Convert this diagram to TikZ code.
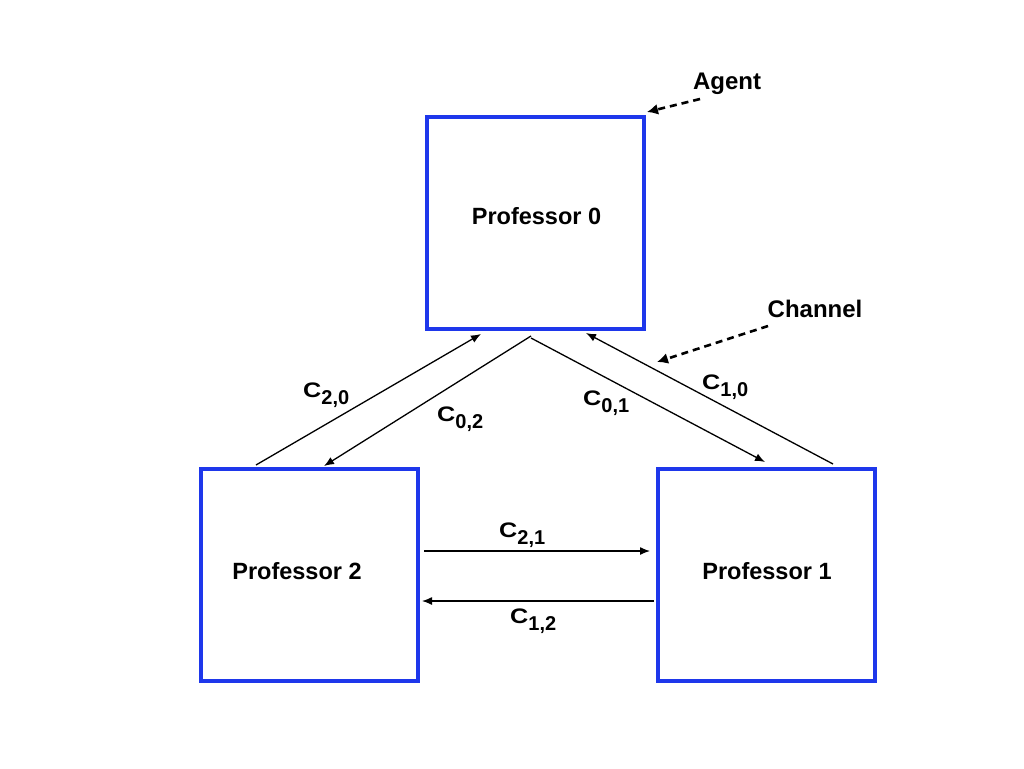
\documentclass[tikz,border=0pt]{standalone}
\usepackage{fontspec}
\setmainfont{Liberation Sans}
\usetikzlibrary{arrows.meta,calc}
\definecolor{boxblue}{RGB}{30,55,235}
\tikzset{
  prof/.style={draw=boxblue, line width=4pt, inner sep=0pt,
    minimum width=217pt, minimum height=212pt},
  proftext/.style={font=\fontsize{23.5}{27}\selectfont\bfseries, inner sep=0pt},
  chan/.style={line width=1.3pt, -{Latex[length=10pt,width=8pt]}},
  pointer/.style={line width=2.6pt, dash pattern=on 7pt off 5pt, -{Latex[length=11pt,width=11pt]}},
  lbl/.style={font=\fontsize{24}{28}\selectfont\bfseries, inner sep=0pt},
  clbl/.style={font=\fontsize{21}{24}\selectfont\bfseries, inner sep=0pt, anchor=base west}
}
\newcommand{\chn}[1]{\scalebox{1.2}[1]{C}\raisebox{-7pt}{\fontsize{20}{24}\selectfont #1}}
\begin{document}
\begin{tikzpicture}[x=1pt,y=-1pt]
\useasboundingbox (0,0) rectangle (1024,768);
\node[prof, label={[proftext,xshift=1pt,yshift=7pt]center:Professor 0}] (p0) at (535.5,223) {};
\node[prof, label={[proftext,xshift=-12.5pt,yshift=4pt]center:Professor 2}] (p2) at (309.5,575) {};
\node[prof, label={[proftext,xshift=0.5pt,yshift=4pt]center:Professor 1}] (p1) at (766.5,575) {};
% channels
\draw[chan] ($(p2.north west)+(57,-2)$) -- ($(p0.south west)+(56,3)$);
\draw[chan] ($(p0.south west)+(106,5)$) -- ($(p2.north west)+(125,-1)$);
\draw[chan] ($(p0.south west)+(106,7)$) -- ($(p1.north west)+(109,-5)$);
\draw[chan] ($(p1.north west)+(177,-3)$) -- ($(p0.south west)+(161,2)$);
\draw[chan] ($(p2.east)+(4,-24)$) -- ($(p1.west)+(-6,-24)$);
\draw[chan] ($(p1.west)+(-2,26)$) -- ($(p2.east)+(2,26)$);
% labels
\node[clbl] (l20) at (303,397) {\chn{2,0}};
\node[clbl] (l02) at (437,421) {\chn{0,2}};
\node[clbl] (l01) at (583,405) {\chn{0,1}};
\node[clbl] (l10) at (702,389) {\chn{1,0}};
\node[clbl] (l21) at (499,537) {\chn{2,1}};
\node[clbl] (l12) at (510,623) {\chn{1,2}};
% pointers
\node[lbl] (agent) at (727,84) {Agent};
\node[lbl] (channel) at (815,309) {Channel};
\coordinate (agentTail) at (700,99);
\coordinate (chanTip) at (657,362);
\coordinate (chanTail) at (768,326);
\draw[pointer] (agentTail) -- ($(p0.north east)+(1,-3)$);
\draw[pointer] (chanTail) -- (chanTip);
\end{tikzpicture}
\end{document}
